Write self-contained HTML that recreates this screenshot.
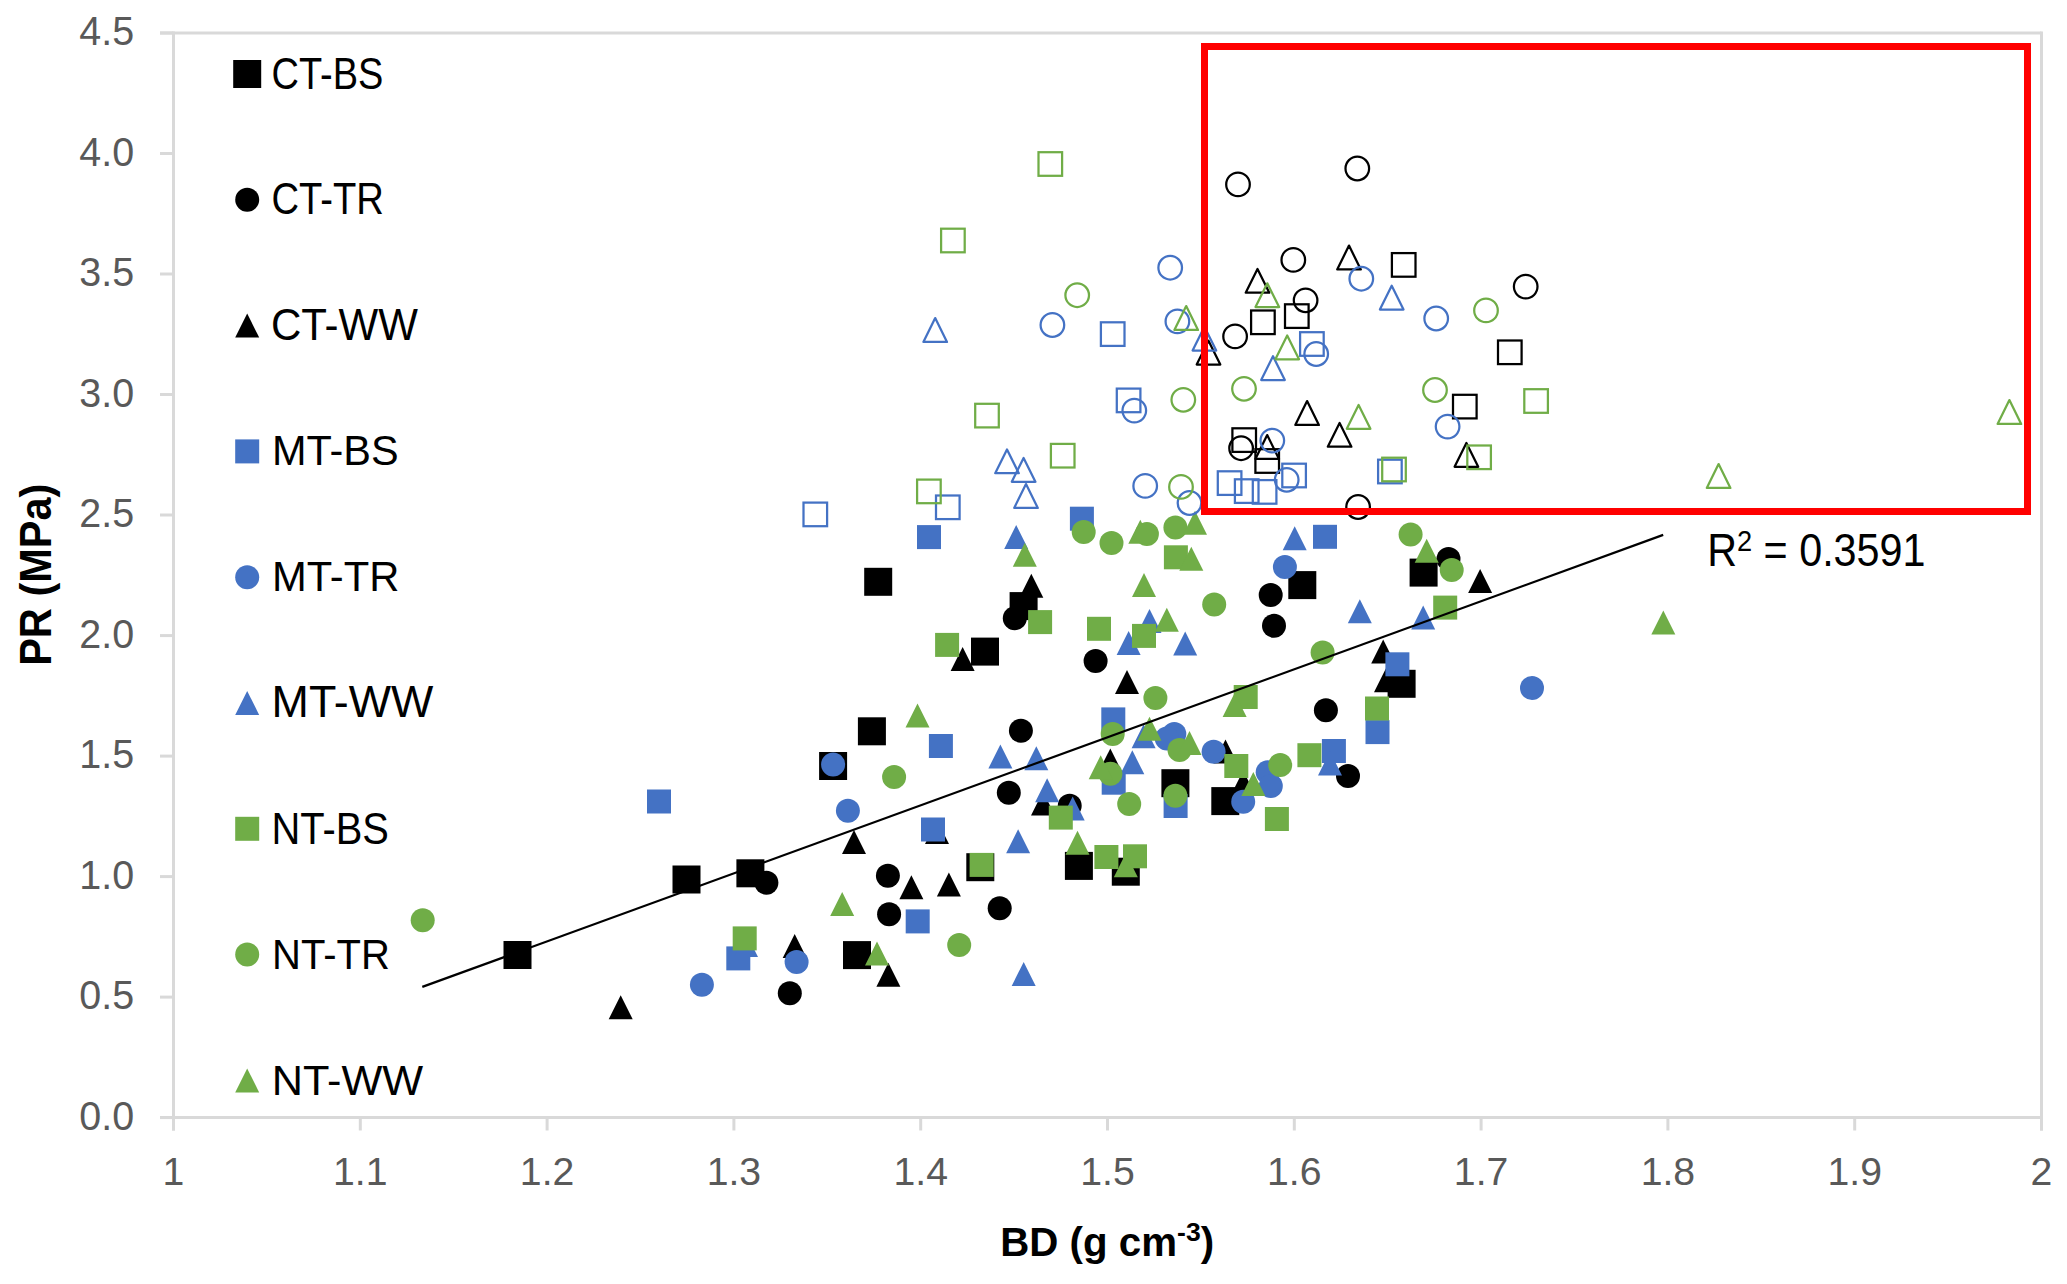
<!DOCTYPE html><html><head><meta charset="utf-8"><style>html,body{margin:0;padding:0;background:#fff;overflow:hidden}svg{display:block}</style></head><body><svg width="2067" height="1284" viewBox="0 0 2067 1284">
<rect width="2067" height="1284" fill="#fff"/>
<g stroke="#D9D9D9" stroke-width="3" fill="none">
<line x1="160" y1="33" x2="2041.5" y2="33"/>
<line x1="2041.5" y1="31.5" x2="2041.5" y2="1130.5"/>
<line x1="173.5" y1="31.5" x2="173.5" y2="1130.5"/>
<line x1="160" y1="1117.6" x2="2043" y2="1117.6"/>
<line x1="160" y1="1117.6" x2="173.5" y2="1117.6"/>
<line x1="160" y1="997.1" x2="173.5" y2="997.1"/>
<line x1="160" y1="876.6" x2="173.5" y2="876.6"/>
<line x1="160" y1="756.1" x2="173.5" y2="756.1"/>
<line x1="160" y1="635.6" x2="173.5" y2="635.6"/>
<line x1="160" y1="515.0" x2="173.5" y2="515.0"/>
<line x1="160" y1="394.5" x2="173.5" y2="394.5"/>
<line x1="160" y1="274.0" x2="173.5" y2="274.0"/>
<line x1="160" y1="153.5" x2="173.5" y2="153.5"/>
<line x1="160" y1="33.0" x2="173.5" y2="33.0"/>
<line x1="173.5" y1="1117.6" x2="173.5" y2="1130.5"/>
<line x1="360.3" y1="1117.6" x2="360.3" y2="1130.5"/>
<line x1="547.1" y1="1117.6" x2="547.1" y2="1130.5"/>
<line x1="733.9" y1="1117.6" x2="733.9" y2="1130.5"/>
<line x1="920.7" y1="1117.6" x2="920.7" y2="1130.5"/>
<line x1="1107.5" y1="1117.6" x2="1107.5" y2="1130.5"/>
<line x1="1294.3" y1="1117.6" x2="1294.3" y2="1130.5"/>
<line x1="1481.1" y1="1117.6" x2="1481.1" y2="1130.5"/>
<line x1="1667.9" y1="1117.6" x2="1667.9" y2="1130.5"/>
<line x1="1854.7" y1="1117.6" x2="1854.7" y2="1130.5"/>
<line x1="2041.5" y1="1117.6" x2="2041.5" y2="1130.5"/>
</g>
<text transform="matrix(0.9868,0,0,0.9964,79.31,1129.90)" x="0" y="0" font-family="Liberation Sans" font-size="40" fill="#595959">0.0</text>
<text transform="matrix(0.9868,0,0,0.9964,79.31,1009.39)" x="0" y="0" font-family="Liberation Sans" font-size="40" fill="#595959">0.5</text>
<text transform="matrix(0.9868,0,0,0.9964,79.31,888.88)" x="0" y="0" font-family="Liberation Sans" font-size="40" fill="#595959">1.0</text>
<text transform="matrix(0.9868,0,0,0.9964,79.31,768.37)" x="0" y="0" font-family="Liberation Sans" font-size="40" fill="#595959">1.5</text>
<text transform="matrix(0.9868,0,0,0.9964,79.31,647.86)" x="0" y="0" font-family="Liberation Sans" font-size="40" fill="#595959">2.0</text>
<text transform="matrix(0.9868,0,0,0.9964,79.31,527.35)" x="0" y="0" font-family="Liberation Sans" font-size="40" fill="#595959">2.5</text>
<text transform="matrix(0.9868,0,0,0.9964,79.31,406.84)" x="0" y="0" font-family="Liberation Sans" font-size="40" fill="#595959">3.0</text>
<text transform="matrix(0.9868,0,0,0.9964,79.31,286.33)" x="0" y="0" font-family="Liberation Sans" font-size="40" fill="#595959">3.5</text>
<text transform="matrix(0.9868,0,0,0.9964,79.31,165.82)" x="0" y="0" font-family="Liberation Sans" font-size="40" fill="#595959">4.0</text>
<text transform="matrix(0.9868,0,0,0.9964,79.31,45.31)" x="0" y="0" font-family="Liberation Sans" font-size="40" fill="#595959">4.5</text>
<text transform="matrix(0.9800,0,0,0.9893,173.50,1185.40)" x="0" y="0" text-anchor="middle" font-family="Liberation Sans" font-size="40" fill="#595959">1</text>
<text transform="matrix(0.9800,0,0,0.9893,360.30,1185.40)" x="0" y="0" text-anchor="middle" font-family="Liberation Sans" font-size="40" fill="#595959">1.1</text>
<text transform="matrix(0.9800,0,0,0.9893,547.10,1185.40)" x="0" y="0" text-anchor="middle" font-family="Liberation Sans" font-size="40" fill="#595959">1.2</text>
<text transform="matrix(0.9800,0,0,0.9893,733.90,1185.40)" x="0" y="0" text-anchor="middle" font-family="Liberation Sans" font-size="40" fill="#595959">1.3</text>
<text transform="matrix(0.9800,0,0,0.9893,920.70,1185.40)" x="0" y="0" text-anchor="middle" font-family="Liberation Sans" font-size="40" fill="#595959">1.4</text>
<text transform="matrix(0.9800,0,0,0.9893,1107.50,1185.40)" x="0" y="0" text-anchor="middle" font-family="Liberation Sans" font-size="40" fill="#595959">1.5</text>
<text transform="matrix(0.9800,0,0,0.9893,1294.30,1185.40)" x="0" y="0" text-anchor="middle" font-family="Liberation Sans" font-size="40" fill="#595959">1.6</text>
<text transform="matrix(0.9800,0,0,0.9893,1481.10,1185.40)" x="0" y="0" text-anchor="middle" font-family="Liberation Sans" font-size="40" fill="#595959">1.7</text>
<text transform="matrix(0.9800,0,0,0.9893,1667.90,1185.40)" x="0" y="0" text-anchor="middle" font-family="Liberation Sans" font-size="40" fill="#595959">1.8</text>
<text transform="matrix(0.9800,0,0,0.9893,1854.70,1185.40)" x="0" y="0" text-anchor="middle" font-family="Liberation Sans" font-size="40" fill="#595959">1.9</text>
<text transform="matrix(0.9800,0,0,0.9893,2041.50,1185.40)" x="0" y="0" text-anchor="middle" font-family="Liberation Sans" font-size="40" fill="#595959">2</text>
<text transform="matrix(0.9158,0,0,0.9089,1000.25,1255.52)" x="0" y="0" font-family="Liberation Sans" font-weight="bold" font-size="44" fill="#000">BD (g cm<tspan dy="-16" font-size="29">-3</tspan><tspan dy="16">)</tspan></text>
<text transform="matrix(0,-0.9441,1.0098,0,51.11,665.83)" x="0" y="0" font-family="Liberation Sans" font-weight="bold" font-size="44" fill="#000">PR (MPa)</text>
<rect x="233.20" y="60.00" width="28" height="28" fill="#000000"/>
<text transform="matrix(0.8441,0,0,0.9903,271.47,88.60)" x="0" y="0" font-family="Liberation Sans" font-size="45" fill="#000">CT-BS</text>
<circle cx="247.20" cy="199.80" r="12.0" fill="#000000"/>
<text transform="matrix(0.8488,0,0,0.9806,271.45,213.70)" x="0" y="0" font-family="Liberation Sans" font-size="45" fill="#000">CT-TR</text>
<polygon points="247.20,313.60 259.20,337.60 235.20,337.60" fill="#000000"/>
<text transform="matrix(0.9344,0,0,0.9903,270.90,340.20)" x="0" y="0" font-family="Liberation Sans" font-size="45" fill="#000">CT-WW</text>
<rect x="235.20" y="439.40" width="24" height="24" fill="#4472C4"/>
<text transform="matrix(0.9214,0,0,0.9548,271.91,465.20)" x="0" y="0" font-family="Liberation Sans" font-size="45" fill="#000">MT-BS</text>
<circle cx="247.20" cy="577.20" r="12.0" fill="#4472C4"/>
<text transform="matrix(0.9275,0,0,0.9548,271.89,591.40)" x="0" y="0" font-family="Liberation Sans" font-size="45" fill="#000">MT-TR</text>
<polygon points="247.20,691.00 259.20,715.00 235.20,715.00" fill="#4472C4"/>
<text transform="matrix(0.9956,0,0,0.9806,271.62,716.80)" x="0" y="0" font-family="Liberation Sans" font-size="45" fill="#000">MT-WW</text>
<rect x="235.20" y="816.80" width="24" height="24" fill="#70AD47"/>
<text transform="matrix(0.8865,0,0,0.9903,271.45,844.00)" x="0" y="0" font-family="Liberation Sans" font-size="45" fill="#000">NT-BS</text>
<circle cx="247.20" cy="954.60" r="12.0" fill="#70AD47"/>
<text transform="matrix(0.8897,0,0,0.9645,272.04,968.60)" x="0" y="0" font-family="Liberation Sans" font-size="45" fill="#000">NT-TR</text>
<polygon points="247.20,1068.40 259.20,1092.40 235.20,1092.40" fill="#70AD47"/>
<text transform="matrix(0.9621,0,0,0.9645,271.75,1094.80)" x="0" y="0" font-family="Liberation Sans" font-size="45" fill="#000">NT-WW</text>
<rect x="503.50" y="941.00" width="28" height="28" fill="#000000"/>
<rect x="672.50" y="865.50" width="28" height="28" fill="#000000"/>
<rect x="736.40" y="859.30" width="28" height="28" fill="#000000"/>
<rect x="843.00" y="941.10" width="28" height="28" fill="#000000"/>
<rect x="966.30" y="853.20" width="28" height="28" fill="#000000"/>
<rect x="1064.90" y="851.90" width="28" height="28" fill="#000000"/>
<rect x="1111.80" y="857.70" width="28" height="28" fill="#000000"/>
<rect x="971.00" y="637.60" width="28" height="28" fill="#000000"/>
<rect x="857.90" y="717.30" width="28" height="28" fill="#000000"/>
<rect x="819.10" y="752.00" width="28" height="28" fill="#000000"/>
<rect x="1211.30" y="787.10" width="28" height="28" fill="#000000"/>
<rect x="1161.40" y="769.20" width="28" height="28" fill="#000000"/>
<rect x="1387.60" y="669.80" width="28" height="28" fill="#000000"/>
<rect x="1288.30" y="571.10" width="28" height="28" fill="#000000"/>
<rect x="1409.60" y="558.60" width="28" height="28" fill="#000000"/>
<rect x="864.20" y="567.80" width="28" height="28" fill="#000000"/>
<rect x="1009.60" y="592.10" width="28" height="28" fill="#000000"/>
<circle cx="766.40" cy="882.80" r="12.0" fill="#000000"/>
<circle cx="887.90" cy="875.70" r="12.0" fill="#000000"/>
<circle cx="889.10" cy="914.30" r="12.0" fill="#000000"/>
<circle cx="789.80" cy="993.20" r="12.0" fill="#000000"/>
<circle cx="999.70" cy="908.20" r="12.0" fill="#000000"/>
<circle cx="1020.90" cy="730.70" r="12.0" fill="#000000"/>
<circle cx="1008.80" cy="792.70" r="12.0" fill="#000000"/>
<circle cx="1325.90" cy="710.20" r="12.0" fill="#000000"/>
<circle cx="1069.70" cy="805.80" r="12.0" fill="#000000"/>
<circle cx="1348.00" cy="776.00" r="12.0" fill="#000000"/>
<circle cx="1448.50" cy="558.90" r="12.0" fill="#000000"/>
<circle cx="1270.70" cy="595.00" r="12.0" fill="#000000"/>
<circle cx="1274.00" cy="625.80" r="12.0" fill="#000000"/>
<circle cx="1095.60" cy="660.90" r="12.0" fill="#000000"/>
<circle cx="1014.80" cy="618.20" r="12.0" fill="#000000"/>
<polygon points="620.70,995.20 632.70,1019.20 608.70,1019.20" fill="#000000"/>
<polygon points="911.40,875.20 923.40,899.20 899.40,899.20" fill="#000000"/>
<polygon points="948.90,872.50 960.90,896.50 936.90,896.50" fill="#000000"/>
<polygon points="794.70,934.00 806.70,958.00 782.70,958.00" fill="#000000"/>
<polygon points="888.40,962.70 900.40,986.70 876.40,986.70" fill="#000000"/>
<polygon points="937.00,820.00 949.00,844.00 925.00,844.00" fill="#000000"/>
<polygon points="962.60,647.10 974.60,671.10 950.60,671.10" fill="#000000"/>
<polygon points="1043.00,791.40 1055.00,815.40 1031.00,815.40" fill="#000000"/>
<polygon points="854.00,830.00 866.00,854.00 842.00,854.00" fill="#000000"/>
<polygon points="1127.00,670.10 1139.00,694.10 1115.00,694.10" fill="#000000"/>
<polygon points="1225.50,739.60 1237.50,763.60 1213.50,763.60" fill="#000000"/>
<polygon points="1243.20,770.40 1255.20,794.40 1231.20,794.40" fill="#000000"/>
<polygon points="1110.30,748.40 1122.30,772.40 1098.30,772.40" fill="#000000"/>
<polygon points="1386.00,668.30 1398.00,692.30 1374.00,692.30" fill="#000000"/>
<polygon points="1480.10,568.90 1492.10,592.90 1468.10,592.90" fill="#000000"/>
<polygon points="1383.20,639.40 1395.20,663.40 1371.20,663.40" fill="#000000"/>
<polygon points="1031.30,573.70 1043.30,597.70 1019.30,597.70" fill="#000000"/>
<rect x="647.00" y="789.50" width="24" height="24" fill="#4472C4"/>
<rect x="905.70" y="909.40" width="24" height="24" fill="#4472C4"/>
<rect x="726.30" y="946.40" width="24" height="24" fill="#4472C4"/>
<rect x="921.00" y="817.50" width="24" height="24" fill="#4472C4"/>
<rect x="928.90" y="734.00" width="24" height="24" fill="#4472C4"/>
<rect x="1101.30" y="707.40" width="24" height="24" fill="#4472C4"/>
<rect x="1321.90" y="739.00" width="24" height="24" fill="#4472C4"/>
<rect x="1163.60" y="794.00" width="24" height="24" fill="#4472C4"/>
<rect x="1101.70" y="770.70" width="24" height="24" fill="#4472C4"/>
<rect x="1365.50" y="720.10" width="24" height="24" fill="#4472C4"/>
<rect x="1385.40" y="652.30" width="24" height="24" fill="#4472C4"/>
<rect x="1313.00" y="524.80" width="24" height="24" fill="#4472C4"/>
<rect x="1069.90" y="506.70" width="24" height="24" fill="#4472C4"/>
<rect x="917.00" y="525.10" width="24" height="24" fill="#4472C4"/>
<circle cx="796.60" cy="962.10" r="12.0" fill="#4472C4"/>
<circle cx="701.90" cy="984.70" r="12.0" fill="#4472C4"/>
<circle cx="833.10" cy="764.60" r="12.0" fill="#4472C4"/>
<circle cx="847.90" cy="810.70" r="12.0" fill="#4472C4"/>
<circle cx="1174.30" cy="734.10" r="12.0" fill="#4472C4"/>
<circle cx="1166.80" cy="738.50" r="12.0" fill="#4472C4"/>
<circle cx="1213.60" cy="751.80" r="12.0" fill="#4472C4"/>
<circle cx="1267.70" cy="772.30" r="12.0" fill="#4472C4"/>
<circle cx="1270.80" cy="785.90" r="12.0" fill="#4472C4"/>
<circle cx="1243.20" cy="801.70" r="12.0" fill="#4472C4"/>
<circle cx="1532.00" cy="688.00" r="12.0" fill="#4472C4"/>
<circle cx="1284.90" cy="567.00" r="12.0" fill="#4472C4"/>
<polygon points="746.00,933.00 758.00,957.00 734.00,957.00" fill="#4472C4"/>
<polygon points="1018.10,829.30 1030.10,853.30 1006.10,853.30" fill="#4472C4"/>
<polygon points="1023.70,961.90 1035.70,985.90 1011.70,985.90" fill="#4472C4"/>
<polygon points="1000.40,744.50 1012.40,768.50 988.40,768.50" fill="#4472C4"/>
<polygon points="1036.30,746.30 1048.30,770.30 1024.30,770.30" fill="#4472C4"/>
<polygon points="1047.10,778.20 1059.10,802.20 1035.10,802.20" fill="#4472C4"/>
<polygon points="1072.70,796.60 1084.70,820.60 1060.70,820.60" fill="#4472C4"/>
<polygon points="1143.60,724.20 1155.60,748.20 1131.60,748.20" fill="#4472C4"/>
<polygon points="1330.00,751.50 1342.00,775.50 1318.00,775.50" fill="#4472C4"/>
<polygon points="1132.30,750.30 1144.30,774.30 1120.30,774.30" fill="#4472C4"/>
<polygon points="1294.70,526.30 1306.70,550.30 1282.70,550.30" fill="#4472C4"/>
<polygon points="1423.20,605.50 1435.20,629.50 1411.20,629.50" fill="#4472C4"/>
<polygon points="1359.80,599.20 1371.80,623.20 1347.80,623.20" fill="#4472C4"/>
<polygon points="1128.60,631.00 1140.60,655.00 1116.60,655.00" fill="#4472C4"/>
<polygon points="1149.50,608.90 1161.50,632.90 1137.50,632.90" fill="#4472C4"/>
<polygon points="1185.20,631.60 1197.20,655.60 1173.20,655.60" fill="#4472C4"/>
<polygon points="1016.20,525.10 1028.20,549.10 1004.20,549.10" fill="#4472C4"/>
<rect x="732.70" y="926.40" width="24" height="24" fill="#70AD47"/>
<rect x="969.60" y="852.90" width="24" height="24" fill="#70AD47"/>
<rect x="1094.40" y="845.00" width="24" height="24" fill="#70AD47"/>
<rect x="1123.00" y="844.30" width="24" height="24" fill="#70AD47"/>
<rect x="1048.80" y="805.60" width="24" height="24" fill="#70AD47"/>
<rect x="1224.30" y="754.00" width="24" height="24" fill="#70AD47"/>
<rect x="1233.70" y="685.00" width="24" height="24" fill="#70AD47"/>
<rect x="1297.40" y="743.20" width="24" height="24" fill="#70AD47"/>
<rect x="1264.90" y="807.00" width="24" height="24" fill="#70AD47"/>
<rect x="1365.00" y="696.50" width="24" height="24" fill="#70AD47"/>
<rect x="1433.20" y="595.60" width="24" height="24" fill="#70AD47"/>
<rect x="1163.90" y="545.30" width="24" height="24" fill="#70AD47"/>
<rect x="1028.10" y="610.10" width="24" height="24" fill="#70AD47"/>
<rect x="1087.00" y="616.80" width="24" height="24" fill="#70AD47"/>
<rect x="1132.00" y="623.90" width="24" height="24" fill="#70AD47"/>
<rect x="935.10" y="632.90" width="24" height="24" fill="#70AD47"/>
<circle cx="422.70" cy="920.20" r="12.0" fill="#70AD47"/>
<circle cx="959.20" cy="944.90" r="12.0" fill="#70AD47"/>
<circle cx="894.10" cy="776.90" r="12.0" fill="#70AD47"/>
<circle cx="1155.40" cy="698.10" r="12.0" fill="#70AD47"/>
<circle cx="1112.70" cy="734.00" r="12.0" fill="#70AD47"/>
<circle cx="1179.50" cy="750.00" r="12.0" fill="#70AD47"/>
<circle cx="1280.20" cy="764.90" r="12.0" fill="#70AD47"/>
<circle cx="1175.40" cy="795.70" r="12.0" fill="#70AD47"/>
<circle cx="1129.20" cy="803.90" r="12.0" fill="#70AD47"/>
<circle cx="1110.40" cy="773.70" r="12.0" fill="#70AD47"/>
<circle cx="1410.60" cy="534.40" r="12.0" fill="#70AD47"/>
<circle cx="1451.70" cy="569.90" r="12.0" fill="#70AD47"/>
<circle cx="1322.60" cy="652.40" r="12.0" fill="#70AD47"/>
<circle cx="1083.70" cy="532.10" r="12.0" fill="#70AD47"/>
<circle cx="1111.50" cy="542.90" r="12.0" fill="#70AD47"/>
<circle cx="1146.90" cy="534.00" r="12.0" fill="#70AD47"/>
<circle cx="1175.40" cy="527.40" r="12.0" fill="#70AD47"/>
<circle cx="1214.20" cy="604.60" r="12.0" fill="#70AD47"/>
<polygon points="842.20,891.90 854.20,915.90 830.20,915.90" fill="#70AD47"/>
<polygon points="877.00,941.40 889.00,965.40 865.00,965.40" fill="#70AD47"/>
<polygon points="1077.50,830.80 1089.50,854.80 1065.50,854.80" fill="#70AD47"/>
<polygon points="1125.80,853.20 1137.80,877.20 1113.80,877.20" fill="#70AD47"/>
<polygon points="917.50,703.50 929.50,727.50 905.50,727.50" fill="#70AD47"/>
<polygon points="1149.50,716.70 1161.50,740.70 1137.50,740.70" fill="#70AD47"/>
<polygon points="1189.50,730.90 1201.50,754.90 1177.50,754.90" fill="#70AD47"/>
<polygon points="1234.60,692.90 1246.60,716.90 1222.60,716.90" fill="#70AD47"/>
<polygon points="1253.30,772.00 1265.30,796.00 1241.30,796.00" fill="#70AD47"/>
<polygon points="1100.70,755.20 1112.70,779.20 1088.70,779.20" fill="#70AD47"/>
<polygon points="1426.70,538.70 1438.70,562.70 1414.70,562.70" fill="#70AD47"/>
<polygon points="1140.30,519.80 1152.30,543.80 1128.30,543.80" fill="#70AD47"/>
<polygon points="1195.00,510.70 1207.00,534.70 1183.00,534.70" fill="#70AD47"/>
<polygon points="1191.30,546.70 1203.30,570.70 1179.30,570.70" fill="#70AD47"/>
<polygon points="1144.00,572.90 1156.00,596.90 1132.00,596.90" fill="#70AD47"/>
<polygon points="1166.80,607.70 1178.80,631.70 1154.80,631.70" fill="#70AD47"/>
<polygon points="1024.80,542.80 1036.80,566.80 1012.80,566.80" fill="#70AD47"/>
<polygon points="1663.30,610.50 1675.30,634.50 1651.30,634.50" fill="#70AD47"/>
<rect x="1251.10" y="310.50" width="23.6" height="23.6" fill="none" stroke="#000000" stroke-width="2.25"/>
<rect x="1285.00" y="304.30" width="23.6" height="23.6" fill="none" stroke="#000000" stroke-width="2.25"/>
<rect x="1232.40" y="428.30" width="23.6" height="23.6" fill="none" stroke="#000000" stroke-width="2.25"/>
<rect x="1255.40" y="449.20" width="23.6" height="23.6" fill="none" stroke="#000000" stroke-width="2.25"/>
<rect x="1498.00" y="340.50" width="23.6" height="23.6" fill="none" stroke="#000000" stroke-width="2.25"/>
<rect x="1453.00" y="394.80" width="23.6" height="23.6" fill="none" stroke="#000000" stroke-width="2.25"/>
<rect x="1391.90" y="253.10" width="23.6" height="23.6" fill="none" stroke="#000000" stroke-width="2.25"/>
<circle cx="1358.10" cy="507.00" r="11.8" fill="none" stroke="#000000" stroke-width="2.25"/>
<circle cx="1235.10" cy="336.40" r="11.8" fill="none" stroke="#000000" stroke-width="2.25"/>
<circle cx="1241.10" cy="448.20" r="11.8" fill="none" stroke="#000000" stroke-width="2.25"/>
<circle cx="1238.00" cy="184.40" r="11.8" fill="none" stroke="#000000" stroke-width="2.25"/>
<circle cx="1357.30" cy="168.50" r="11.8" fill="none" stroke="#000000" stroke-width="2.25"/>
<circle cx="1293.30" cy="259.90" r="11.8" fill="none" stroke="#000000" stroke-width="2.25"/>
<circle cx="1305.60" cy="300.30" r="11.8" fill="none" stroke="#000000" stroke-width="2.25"/>
<circle cx="1525.70" cy="286.60" r="11.8" fill="none" stroke="#000000" stroke-width="2.25"/>
<polygon points="1208.50,340.70 1220.30,364.50 1196.70,364.50" fill="none" stroke="#000000" stroke-width="2.25" stroke-linejoin="round"/>
<polygon points="1307.10,401.10 1318.90,424.90 1295.30,424.90" fill="none" stroke="#000000" stroke-width="2.25" stroke-linejoin="round"/>
<polygon points="1339.60,422.90 1351.40,446.70 1327.80,446.70" fill="none" stroke="#000000" stroke-width="2.25" stroke-linejoin="round"/>
<polygon points="1267.20,435.10 1279.00,458.90 1255.40,458.90" fill="none" stroke="#000000" stroke-width="2.25" stroke-linejoin="round"/>
<polygon points="1466.40,443.00 1478.20,466.80 1454.60,466.80" fill="none" stroke="#000000" stroke-width="2.25" stroke-linejoin="round"/>
<polygon points="1349.00,245.60 1360.80,269.40 1337.20,269.40" fill="none" stroke="#000000" stroke-width="2.25" stroke-linejoin="round"/>
<polygon points="1257.50,268.90 1269.30,292.70 1245.70,292.70" fill="none" stroke="#000000" stroke-width="2.25" stroke-linejoin="round"/>
<rect x="803.50" y="502.60" width="23.6" height="23.6" fill="none" stroke="#4472C4" stroke-width="2.25"/>
<rect x="936.00" y="495.50" width="23.6" height="23.6" fill="none" stroke="#4472C4" stroke-width="2.25"/>
<rect x="1100.90" y="322.30" width="23.6" height="23.6" fill="none" stroke="#4472C4" stroke-width="2.25"/>
<rect x="1300.10" y="332.20" width="23.6" height="23.6" fill="none" stroke="#4472C4" stroke-width="2.25"/>
<rect x="1116.80" y="388.60" width="23.6" height="23.6" fill="none" stroke="#4472C4" stroke-width="2.25"/>
<rect x="1217.80" y="471.30" width="23.6" height="23.6" fill="none" stroke="#4472C4" stroke-width="2.25"/>
<rect x="1234.90" y="479.30" width="23.6" height="23.6" fill="none" stroke="#4472C4" stroke-width="2.25"/>
<rect x="1252.80" y="480.10" width="23.6" height="23.6" fill="none" stroke="#4472C4" stroke-width="2.25"/>
<rect x="1282.30" y="463.70" width="23.6" height="23.6" fill="none" stroke="#4472C4" stroke-width="2.25"/>
<rect x="1378.10" y="459.70" width="23.6" height="23.6" fill="none" stroke="#4472C4" stroke-width="2.25"/>
<circle cx="1189.50" cy="503.00" r="11.8" fill="none" stroke="#4472C4" stroke-width="2.25"/>
<circle cx="1052.40" cy="325.00" r="11.8" fill="none" stroke="#4472C4" stroke-width="2.25"/>
<circle cx="1177.40" cy="321.40" r="11.8" fill="none" stroke="#4472C4" stroke-width="2.25"/>
<circle cx="1316.20" cy="354.00" r="11.8" fill="none" stroke="#4472C4" stroke-width="2.25"/>
<circle cx="1134.30" cy="410.60" r="11.8" fill="none" stroke="#4472C4" stroke-width="2.25"/>
<circle cx="1272.30" cy="440.60" r="11.8" fill="none" stroke="#4472C4" stroke-width="2.25"/>
<circle cx="1286.70" cy="479.80" r="11.8" fill="none" stroke="#4472C4" stroke-width="2.25"/>
<circle cx="1145.20" cy="485.90" r="11.8" fill="none" stroke="#4472C4" stroke-width="2.25"/>
<circle cx="1436.20" cy="318.50" r="11.8" fill="none" stroke="#4472C4" stroke-width="2.25"/>
<circle cx="1447.60" cy="426.60" r="11.8" fill="none" stroke="#4472C4" stroke-width="2.25"/>
<circle cx="1170.20" cy="267.70" r="11.8" fill="none" stroke="#4472C4" stroke-width="2.25"/>
<circle cx="1361.30" cy="278.70" r="11.8" fill="none" stroke="#4472C4" stroke-width="2.25"/>
<polygon points="1026.00,484.10 1037.80,507.90 1014.20,507.90" fill="none" stroke="#4472C4" stroke-width="2.25" stroke-linejoin="round"/>
<polygon points="935.20,318.10 947.00,341.90 923.40,341.90" fill="none" stroke="#4472C4" stroke-width="2.25" stroke-linejoin="round"/>
<polygon points="1007.00,449.40 1018.80,473.20 995.20,473.20" fill="none" stroke="#4472C4" stroke-width="2.25" stroke-linejoin="round"/>
<polygon points="1023.60,458.00 1035.40,481.80 1011.80,481.80" fill="none" stroke="#4472C4" stroke-width="2.25" stroke-linejoin="round"/>
<polygon points="1204.40,326.70 1216.20,350.50 1192.60,350.50" fill="none" stroke="#4472C4" stroke-width="2.25" stroke-linejoin="round"/>
<polygon points="1273.00,356.20 1284.80,380.00 1261.20,380.00" fill="none" stroke="#4472C4" stroke-width="2.25" stroke-linejoin="round"/>
<polygon points="1391.70,285.70 1403.50,309.50 1379.90,309.50" fill="none" stroke="#4472C4" stroke-width="2.25" stroke-linejoin="round"/>
<rect x="917.10" y="479.60" width="23.6" height="23.6" fill="none" stroke="#70AD47" stroke-width="2.25"/>
<rect x="975.20" y="403.80" width="23.6" height="23.6" fill="none" stroke="#70AD47" stroke-width="2.25"/>
<rect x="1050.90" y="443.90" width="23.6" height="23.6" fill="none" stroke="#70AD47" stroke-width="2.25"/>
<rect x="1524.30" y="389.20" width="23.6" height="23.6" fill="none" stroke="#70AD47" stroke-width="2.25"/>
<rect x="1467.30" y="445.50" width="23.6" height="23.6" fill="none" stroke="#70AD47" stroke-width="2.25"/>
<rect x="1382.20" y="457.70" width="23.6" height="23.6" fill="none" stroke="#70AD47" stroke-width="2.25"/>
<rect x="1038.50" y="152.20" width="23.6" height="23.6" fill="none" stroke="#70AD47" stroke-width="2.25"/>
<rect x="941.10" y="228.70" width="23.6" height="23.6" fill="none" stroke="#70AD47" stroke-width="2.25"/>
<circle cx="1244.00" cy="388.80" r="11.8" fill="none" stroke="#70AD47" stroke-width="2.25"/>
<circle cx="1183.30" cy="399.80" r="11.8" fill="none" stroke="#70AD47" stroke-width="2.25"/>
<circle cx="1181.00" cy="486.90" r="11.8" fill="none" stroke="#70AD47" stroke-width="2.25"/>
<circle cx="1486.00" cy="310.40" r="11.8" fill="none" stroke="#70AD47" stroke-width="2.25"/>
<circle cx="1435.00" cy="390.00" r="11.8" fill="none" stroke="#70AD47" stroke-width="2.25"/>
<circle cx="1077.20" cy="295.20" r="11.8" fill="none" stroke="#70AD47" stroke-width="2.25"/>
<polygon points="1186.20,306.10 1198.00,329.90 1174.40,329.90" fill="none" stroke="#70AD47" stroke-width="2.25" stroke-linejoin="round"/>
<polygon points="1287.20,335.50 1299.00,359.30 1275.40,359.30" fill="none" stroke="#70AD47" stroke-width="2.25" stroke-linejoin="round"/>
<polygon points="1358.60,405.00 1370.40,428.80 1346.80,428.80" fill="none" stroke="#70AD47" stroke-width="2.25" stroke-linejoin="round"/>
<polygon points="1267.30,283.30 1279.10,307.10 1255.50,307.10" fill="none" stroke="#70AD47" stroke-width="2.25" stroke-linejoin="round"/>
<polygon points="2009.40,400.10 2021.20,423.90 1997.60,423.90" fill="none" stroke="#70AD47" stroke-width="2.25" stroke-linejoin="round"/>
<polygon points="1718.60,464.10 1730.40,487.90 1706.80,487.90" fill="none" stroke="#70AD47" stroke-width="2.25" stroke-linejoin="round"/>
<line x1="422.3" y1="986.9" x2="1663.2" y2="534.9" stroke="#000" stroke-width="2.2"/>
<text transform="matrix(0.9385,0,0,1.0412,1707.15,566.00)" x="0" y="0" font-family="Liberation Sans" font-size="44" fill="#000">R<tspan dy="-14" font-size="29">2</tspan><tspan dy="14"> = 0.3591</tspan></text>
<rect x="1204.5" y="46.5" width="823" height="465" fill="none" stroke="#FF0000" stroke-width="7"/>
</svg></body></html>
